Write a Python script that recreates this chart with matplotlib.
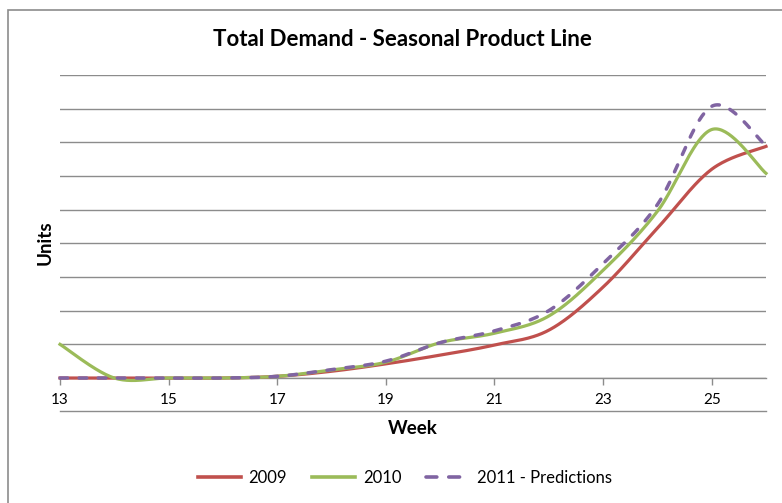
import numpy as np
import matplotlib
matplotlib.use("Agg")
import matplotlib.pyplot as plt
from matplotlib.patches import Rectangle
from matplotlib.lines import Line2D

plt.rcParams['font.family'] = ['Lato', 'DejaVu Sans']

weeks = [13, 14, 15, 16, 17, 18, 19, 20, 21, 22, 23, 24, 25, 26]
demand_2009 = [0.0, 0.0, 0.0, 0.0, 0.05, 0.2, 0.42, 0.68, 0.98, 1.42, 2.7, 4.45, 6.2, 6.88]
demand_2010 = [1.0, 0.0, 0.0, 0.0, 0.05, 0.24, 0.47, 1.05, 1.33, 1.84, 3.2, 4.95, 7.38, 6.08]
demand_2011 = [0.0, 0.0, 0.0, 0.0, 0.05, 0.25, 0.5, 1.05, 1.4, 2.0, 3.4, 5.15, 8.07, 6.9]

series_names = ["2009", "2010", "2011 - Predictions"]
colors = ["#C0504D", "#9BBB59", "#8064A2"]
xticks = [13, 15, 17, 19, 21, 23, 25]
GRAY = "#8C8C8C"


def smooth(xs, ys, n=40):
    """Smoothed line: cubic Bezier segments with Catmull-Rom control points."""
    p = np.column_stack([xs, ys]).astype(float)
    p_ext = np.vstack([p[0], p, p[-1]])
    out = []
    t = np.linspace(0, 1, n)[:, None]
    for i in range(1, len(p_ext) - 2):
        p0, p1, p2, p3 = p_ext[i - 1], p_ext[i], p_ext[i + 1], p_ext[i + 2]
        c1 = p1 + (p2 - p0) / 6.0
        c2 = p2 - (p3 - p1) / 6.0
        seg = ((1 - t) ** 3) * p1 + 3 * ((1 - t) ** 2) * t * c1 + 3 * (1 - t) * t ** 2 * c2 + t ** 3 * p2
        out.append(seg if i == 1 else seg[1:])
    pts = np.vstack(out)
    return pts[:, 0], pts[:, 1]


W, H = 782, 503
fig = plt.figure(figsize=(W / 100, H / 100), dpi=100)
ax = fig.add_axes([60 / W, 1 - 378 / H, (766 - 60) / W, (378 - 75) / H])

# outer chart frame
fig.patches.append(Rectangle((8 / W, -0.1), 1.2, 1 - 10 / H + 0.1, transform=fig.transFigure,
                             fill=False, edgecolor="#8C8C8C", linewidth=1.2))
# rule beneath the category labels
fig.add_artist(Line2D([60 / W, 766 / W], [1 - 411 / H, 1 - 411 / H], transform=fig.transFigure,
                      color=GRAY, lw=1.0))

for ys, c, name in zip([demand_2009, demand_2010, demand_2011], colors, series_names):
    sx, sy = smooth(weeks, ys)
    if name.startswith("2011"):
        ax.plot(sx, sy, color=c, lw=2.5, dashes=(2.2, 3.3), dash_capstyle="round",
                zorder=4, clip_on=False)
    else:
        ax.plot(sx, sy, color=c, lw=2.3, zorder=3, clip_on=False)

ax.set_xlim(13, 26)
ax.set_ylim(0, 9)
ax.set_yticks(range(0, 10))
ax.yaxis.grid(True, color=GRAY, lw=1.0)
ax.set_axisbelow(True)
ax.tick_params(axis="y", left=False, labelleft=False)
ax.set_xticks(xticks)
ax.set_xticklabels([str(v) for v in xticks], fontsize=11)
ax.tick_params(axis="x", length=5, width=1, color=GRAY, pad=6)
for s in ["top", "right", "left"]:
    ax.spines[s].set_visible(False)
ax.spines["bottom"].set_color(GRAY)
ax.spines["bottom"].set_linewidth(1.0)

fig.text(402 / W, 1 - 40 / H, "Total Demand - Seasonal Product Line", ha="center", va="center",
         fontsize=16, fontweight="bold")
fig.text(413 / W, 1 - 428 / H, "Week", ha="center", va="center", fontsize=13.5, fontweight="bold")
fig.text(45 / W, 1 - 243 / H, "Units", ha="center", va="center", rotation=90,
         fontsize=13.5, fontweight="bold")

handles = [
    Line2D([], [], color=colors[0], lw=2.6),
    Line2D([], [], color=colors[1], lw=2.6),
    Line2D([], [], color=colors[2], lw=2.6, dashes=(3.0, 3.3), dash_capstyle="round"),
]
fig.legend(handles, series_names, loc="center", bbox_to_anchor=(405 / W, 1 - 478 / H),
           ncol=3, frameon=False, fontsize=12, handlelength=2.6, columnspacing=1.5,
           handletextpad=0.45)

fig.savefig("out.png", dpi=100)
